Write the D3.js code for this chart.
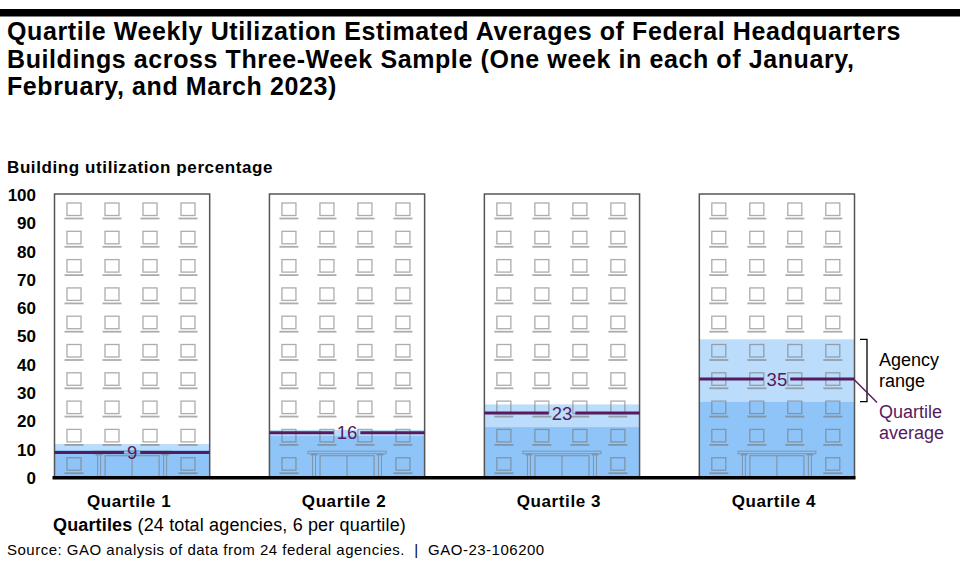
<!DOCTYPE html>
<html>
<head>
<meta charset="utf-8">
<script src="https://cdn.jsdelivr.net/npm/d3@7"></script>
<style>
  body { margin: 0; background: #fff; }
  svg text { font-family: "Liberation Sans", Arial, sans-serif; }
</style>
</head>
<body>
<div id="chart"></div>
<script>
// values
var quartiles = ["Quartile 1", "Quartile 2", "Quartile 3", "Quartile 4"];
var averages = [9, 16, 23, 35];
var rangeLow = [10, 15, 18, 27];
var rangeHigh = [12, 17, 26, 49];
var yTicks = [0, 10, 20, 30, 40, 50, 60, 70, 80, 90, 100];

var W = 960, H = 586;
var purple = "#561a5e";
var winColor = "#777";

var svg = d3.select("#chart").append("svg")
    .attr("width", W)
    .attr("height", H);

// top rule
svg.append("rect").attr("x", 0).attr("y", 9).attr("width", W).attr("height", 7.5).style("fill", "#000");

// title
var titleLines = [
  "Quartile Weekly Utilization Estimated Averages of Federal Headquarters",
  "Buildings across Three-Week Sample (One week in each of January,",
  "February, and March 2023)"
];
svg.append("g").selectAll("text")
  .data(titleLines)
  .enter().append("text")
    .attr("x", 7)
    .attr("y", function(d, i) { return 40 + i * 27.5; })
    .style("font-size", "25px")
    .style("font-weight", "bold")
    .style("letter-spacing", "0.6px")
    .text(function(d) { return d; });

// scales
var x = d3.scaleBand()
  .domain(quartiles)
  .range([54.5, 854.5])
  .paddingInner(0.278)
  .paddingOuter(0);

var y = d3.scaleLinear()
  .domain([0, 100])
  .range([478, 195]);

// y axis
var yAxis = svg.append("g")
  .attr("transform", "translate(40,0)")
  .call(d3.axisLeft(y).tickValues(yTicks).tickSize(0).tickPadding(4).tickFormat(d3.format("d")));
yAxis.select(".domain").remove();
yAxis.selectAll("text")
  .style("font-family", "'Liberation Sans', Arial, sans-serif")
  .style("font-size", "17px")
  .style("font-weight", "bold")
  .style("fill", "#000");

svg.append("text")
  .attr("x", 7)
  .attr("y", 172.5)
  .style("font-size", "17px")
  .style("font-weight", "bold")
  .style("letter-spacing", "0.6px")
  .text("Building utilization percentage");

var bw = x.bandwidth();
var rows = d3.range(0, 100, 10);
var cols = [12.5, 50.5, 88.5, 126.5];

quartiles.forEach(function(q, i) {
  var g = svg.append("g").attr("transform", "translate(" + x(q) + ",0)");
  var cx = bw / 2;

  // white body
  g.append("rect")
    .attr("x", 0).attr("y", y(100) - 1)
    .attr("width", bw).attr("height", y(0) - y(100) + 1)
    .style("fill", "#fff");

  // agency fill: solid up to the range low, lighter across the range
  g.append("rect")
    .attr("x", 0).attr("y", y(rangeHigh[i]))
    .attr("width", bw).attr("height", y(rangeLow[i]) - y(rangeHigh[i]))
    .style("fill", "#bcdcfb");
  g.append("rect")
    .attr("x", 0).attr("y", y(rangeLow[i]))
    .attr("width", bw).attr("height", y(0) - y(rangeLow[i]))
    .style("fill", "#8ec4f7");

  // windows
  var wins = g.append("g").style("opacity", 0.6);
  rows.forEach(function(v) {
    var top = y(v + 10);
    cols.forEach(function(c, ci) {
      if (v === 0 && (ci === 1 || ci === 2)) return;
      wins.append("rect")
        .attr("x", c).attr("y", top + 8)
        .attr("width", 14).attr("height", 12.5)
        .style("fill", "none").style("stroke", winColor).style("stroke-width", 1.3);
      wins.append("line")
        .attr("x1", c - 2.5).attr("x2", c + 16.5)
        .attr("y1", top + 23.5).attr("y2", top + 23.5)
        .style("stroke", winColor).style("stroke-width", 1.8);
    });
  });

  // entrance
  var door = wins.append("g");
  var canopyY = y(10) + 1.5;
  door.append("rect")
    .attr("x", cx - 39).attr("y", canopyY)
    .attr("width", 78).attr("height", 2.5)
    .style("fill", "none").style("stroke", winColor).style("stroke-width", 1);
  [-33, 33].forEach(function(o) {
    door.append("rect")
      .attr("x", cx + o - 1.5).attr("y", canopyY + 2.5)
      .attr("width", 3).attr("height", y(0) - canopyY - 2.5)
      .style("fill", "none").style("stroke", winColor).style("stroke-width", 1);
    door.append("line")
      .attr("x1", cx + o - 3.5).attr("x2", cx + o + 3.5)
      .attr("y1", canopyY + 3.5).attr("y2", canopyY + 3.5)
      .style("stroke", winColor).style("stroke-width", 1.5);
  });
  door.append("rect")
    .attr("x", cx - 27).attr("y", canopyY + 4.5)
    .attr("width", 54).attr("height", y(0) - canopyY - 4.5)
    .style("fill", "none").style("stroke", winColor).style("stroke-width", 1.2);
  door.append("line")
    .attr("x1", cx).attr("x2", cx)
    .attr("y1", canopyY + 4.5).attr("y2", y(0))
    .style("stroke", winColor).style("stroke-width", 1.2);

  // outline
  g.append("rect")
    .attr("x", 0).attr("y", y(100) - 1)
    .attr("width", bw).attr("height", y(0) - y(100) + 1)
    .style("fill", "none").style("stroke", "#555").style("stroke-width", 1.5);

  // quartile average line with its label
  var ay = y(averages[i]);
  var lab = g.append("text")
    .attr("x", cx).attr("y", ay)
    .attr("dy", "0.36em")
    .attr("text-anchor", "middle")
    .style("font-size", "18.5px")
    .style("fill", purple)
    .text(averages[i]);
  var half = lab.node().getComputedTextLength() / 2 + 3;
  g.append("line").attr("x1", 0).attr("x2", cx - half).attr("y1", ay).attr("y2", ay)
    .style("stroke", purple).style("stroke-width", 3);
  g.append("line").attr("x1", cx + half).attr("x2", bw).attr("y1", ay).attr("y2", ay)
    .style("stroke", purple).style("stroke-width", 3);

  // quartile label
  svg.append("text")
    .attr("x", x(q) + cx - 3)
    .attr("y", 506.5)
    .attr("text-anchor", "middle")
    .style("font-size", "17px")
    .style("font-weight", "bold")
    .style("letter-spacing", "0.6px")
    .text(q);
});

// ground
svg.append("rect")
  .attr("x", 52.5).attr("y", 476)
  .attr("width", x(quartiles[3]) + bw - 52.5 + 1).attr("height", 3.5)
  .style("fill", "#000");

// legend on the last building
var last = quartiles.length - 1;
var bx = x(quartiles[last]) + bw + 12.5;
svg.append("path")
  .attr("d", "M" + (bx - 7) + "," + y(rangeHigh[last]) + "H" + bx + "V" + y(rangeLow[last]) + "H" + (bx - 7))
  .style("fill", "none").style("stroke", "#000").style("stroke-width", 1.3);
svg.append("line")
  .attr("x1", x(quartiles[last]) + bw - 1).attr("y1", y(averages[last]))
  .attr("x2", x(quartiles[last]) + bw + 22.5).attr("y2", y(averages[last]) + 23.5)
  .style("stroke", purple).style("stroke-width", 1.5);

var legend = [
  { t: "Agency", y: 366, c: "#000" },
  { t: "range", y: 387, c: "#000" },
  { t: "Quartile", y: 418, c: purple },
  { t: "average", y: 439, c: purple }
];
svg.append("g").selectAll("text")
  .data(legend)
  .enter().append("text")
    .attr("x", 879)
    .attr("y", function(d) { return d.y; })
    .style("font-size", "18px")
    .style("fill", function(d) { return d.c; })
    .text(function(d) { return d.t; });

// x axis title
var xt = svg.append("text")
  .attr("x", 53)
  .attr("y", 530.5)
  .style("font-size", "18px")
  .style("letter-spacing", "0.15px");
xt.append("tspan").style("font-weight", "bold").text("Quartiles");
xt.append("tspan").text(" (24 total agencies, 6 per quartile)");

// source
svg.append("text")
  .attr("x", 7)
  .attr("y", 555)
  .style("font-size", "15px")
  .style("letter-spacing", "0.5px")
  .style("white-space", "pre")
  .text("Source: GAO analysis of data from 24 federal agencies.  |  GAO-23-106200");
</script>
</body>
</html>
